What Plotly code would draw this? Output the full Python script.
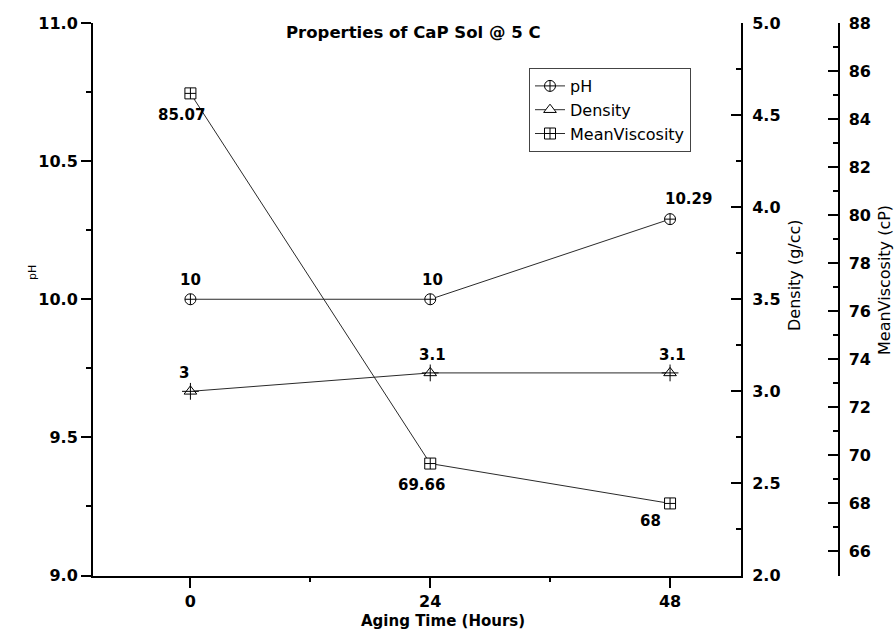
import plotly.graph_objects as go

# ---- data ----
hours = [0, 24, 48]
ph = [10, 10, 10.29]
density = [3, 3.1, 3.1]
viscosity = [85.07, 69.66, 68]

W, H = 895, 635
FONT = "DejaVu Sans"
LINE = "#2a2a2a"


def px(xp):
    return xp / W


def py(yp):
    return (H - yp) / H


fig = go.Figure()
fig.add_trace(go.Scatter(
    x=hours, y=ph, name="pH", mode="lines+markers", yaxis="y",
    line=dict(color=LINE, width=1),
    marker=dict(symbol="circle-cross", size=11, color="white",
                line=dict(color="black", width=1))))
fig.add_trace(go.Scatter(
    x=hours, y=density, name="Density", mode="lines+markers", yaxis="y2",
    line=dict(color=LINE, width=1),
    marker=dict(symbol="triangle-up", size=11, color="white",
                line=dict(color="black", width=1))))
fig.add_trace(go.Scatter(
    x=hours, y=density, mode="markers", yaxis="y2", showlegend=False,
    marker=dict(symbol="cross-thin-open", size=12, color="black",
                line=dict(color="black", width=1))))
fig.add_trace(go.Scatter(
    x=hours, y=viscosity, name="MeanViscosity", mode="lines+markers", yaxis="y3",
    line=dict(color=LINE, width=1),
    marker=dict(symbol="square-cross", size=11, color="white",
                line=dict(color="black", width=1))))

tickfont = dict(family=FONT, size=16, color="black", weight="bold")
axcommon = dict(showline=True, linecolor="black", linewidth=2, tickwidth=2,
                tickcolor="black", ticklen=10, showgrid=False, zeroline=False,
                tickfont=tickfont, automargin=False)

fig.update_layout(
    template="none",
    width=W, height=H,
    margin=dict(l=0, r=0, t=0, b=0, pad=0),
    paper_bgcolor="white", plot_bgcolor="white",
    font=dict(family=FONT, color="black"),
    xaxis=dict(domain=[px(93), px(741)], range=[-9.75, 55.1],
               tickvals=hours, ticks="outside", anchor="y",
               minor=dict(ticks="outside", ticklen=4, tickwidth=2,
                          tickcolor="black", tick0=12, dtick=24),
               **axcommon),
    yaxis=dict(domain=[py(575.5), py(23)], range=[9, 11], dtick=0.5,
               tickformat=".1f", ticks="outside", side="left", anchor="x",
               minor=dict(ticks="outside", ticklen=5, tickwidth=2,
                          tickcolor="black", dtick=0.25),
               **axcommon),
    yaxis2=dict(range=[2, 5], dtick=0.5, tickformat=".1f", ticks="inside",
                side="right", anchor="x", overlaying="y",
                ticklabelstandoff=6,
                minor=dict(ticks="inside", ticklen=5, tickwidth=2,
                           tickcolor="black", dtick=0.25),
                **axcommon),
    yaxis3=dict(range=[65, 88], dtick=2, tick0=0, ticks="inside",
                side="right", anchor="free", position=px(838.5),
                overlaying="y", ticklabelstandoff=6,
                minor=dict(ticks="inside", ticklen=5, tickwidth=2,
                           tickcolor="black", dtick=1),
                **axcommon),
    legend=dict(x=px(529), y=py(68), xanchor="left", yanchor="top",
                bgcolor="white", bordercolor="#444", borderwidth=1,
                font=dict(family=FONT, size=16, color="black"),
                tracegroupgap=0),
    showlegend=True,
)

ann = []
# title and axis titles
ann.append(dict(text="Properties of CaP Sol @ 5 C", x=px(413), y=py(32),
                font=dict(size=16.5, weight="bold")))
ann.append(dict(text="pH", x=px(32), y=py(272), textangle=-90,
                font=dict(size=11)))
ann.append(dict(text="Density (g/cc)", x=px(794), y=py(275), textangle=-90,
                font=dict(size=16)))
ann.append(dict(text="MeanViscosity (cP)", x=px(884), y=py(280), textangle=-90,
                font=dict(size=16)))
ann.append(dict(text="Aging Time (Hours)", x=px(443), y=py(621),
                font=dict(size=15, weight="bold")))
for a in ann:
    a.update(xref="paper", yref="paper", showarrow=False,
             xanchor="center", yanchor="middle")

# data labels
lab_font = dict(family=FONT, size=15, color="black", weight="bold")
ph_off = [(0, -19), (2, -19), (18, -20)]
den_off = [(-6, -18), (2, -18), (2, -18)]
vis_off = [(-9, 22), (-9, 21), (-20, 18)]
for series, yref, offs in ((ph, "y", ph_off), (density, "y2", den_off),
                           (viscosity, "y3", vis_off)):
    for xv, yv, (dx, dy) in zip(hours, series, offs):
        ann.append(dict(text=f"{yv:g}", x=xv, y=yv, xref="x", yref=yref,
                        xshift=dx, yshift=-dy, showarrow=False,
                        xanchor="center", yanchor="middle", font=lab_font))

fig.update_layout(annotations=ann)
fig.write_html(
    "out.html",
    config={"displayModeBar": False},
    post_script="document.body.style.margin='0';"
                "document.body.style.overflow='hidden';",
)
